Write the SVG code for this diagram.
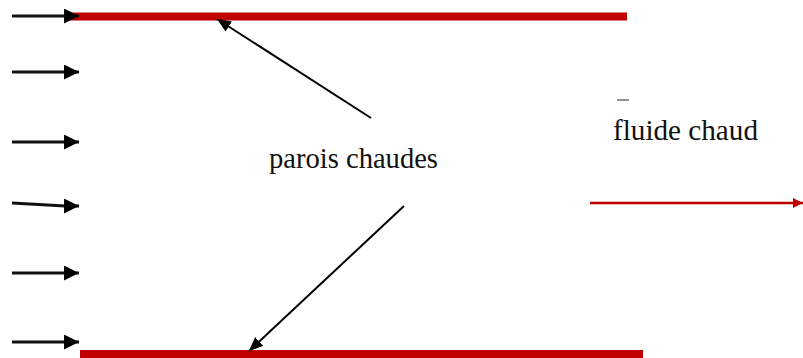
<svg xmlns="http://www.w3.org/2000/svg" width="803" height="358" viewBox="0 0 803 358">
<style>
.wall{stroke:#c00000;stroke-width:8;fill:none}
.flow{stroke:#111;stroke-width:2.8;fill:none;marker-end:url(#ah)}
.ptr{stroke:#000;stroke-width:2;fill:none;marker-end:url(#ahs)}
.lbl{fill:#111}
</style>
<defs>
<marker id="ah" markerWidth="15" markerHeight="15" refX="15" refY="7.5" orient="auto" markerUnits="userSpaceOnUse">
<path d="M0,0 L15,7.5 L0,15 Z" fill="#000"/>
</marker>
<marker id="ahs" markerWidth="14" markerHeight="12" refX="14" refY="6" orient="auto" markerUnits="userSpaceOnUse">
<path d="M0,0 L14,6 L0,12 Z" fill="#000"/>
</marker>
<marker id="ahr" markerWidth="10" markerHeight="10" refX="10" refY="5" orient="auto" markerUnits="userSpaceOnUse">
<path d="M0,0 L10,5 L0,10 Z" fill="#c00000"/>
</marker>
</defs>
<rect width="803" height="358" fill="#fff"/>
<g id="wall-top"><line class="wall" x1="65" y1="16.5" x2="627" y2="16.5"/></g>
<g id="wall-bottom"><line class="wall" x1="80" y1="354" x2="643" y2="354"/></g>
<g id="connectors">
<line class="flow" x1="12" y1="16" x2="79" y2="16"/>
<line class="flow" x1="12" y1="72" x2="79" y2="72"/>
<line class="flow" x1="12" y1="142" x2="79" y2="142"/>
<path class="flow" d="M12,203 L65,206 L79,206"/>
<line class="flow" x1="12" y1="273" x2="79" y2="273"/>
<line class="flow" x1="12" y1="342" x2="79" y2="342"/>
<line class="ptr" x1="371" y1="118" x2="217" y2="19"/>
<line class="ptr" x1="404" y1="206" x2="249" y2="351"/>
<line stroke="#c00000" stroke-width="2.4" x1="590" y1="203" x2="803" y2="203" marker-end="url(#ahr)"/>
</g>
<g id="label-parois"><text class="lbl" font-family="'Liberation Serif', 'DejaVu Serif', serif" x="269" y="168" font-size="29" textLength="169" lengthAdjust="spacingAndGlyphs">parois chaudes</text></g>
<g id="label-fluide">
<line x1="617" y1="100" x2="629" y2="100" stroke="#555" stroke-width="1.3"/>
<text class="lbl" font-family="'Liberation Serif', 'DejaVu Serif', serif" x="613" y="140" font-size="29" textLength="145" lengthAdjust="spacingAndGlyphs">fluide chaud</text>
</g>
</svg>
